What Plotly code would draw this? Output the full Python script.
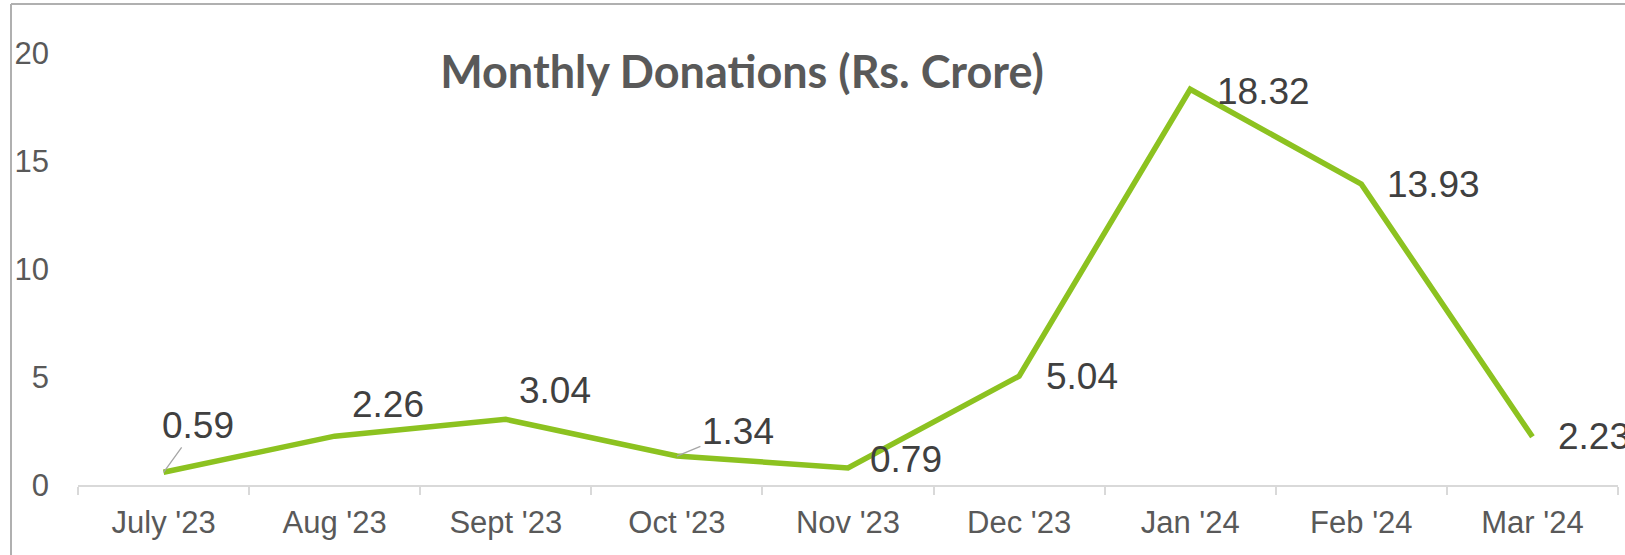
import plotly.graph_objects as go

months = ["July '23", "Aug '23", "Sept '23", "Oct '23", "Nov '23", "Dec '23", "Jan '24", "Feb '24", "Mar '24"]
donations = [0.59, 2.26, 3.04, 1.34, 0.79, 5.04, 18.32, 13.93, 2.23]
y_ticks = [0, 5, 10, 15, 20]

# label placement styles (pixel offsets relative to each point)
label_style = [
    dict(showarrow=True, ax=34, ay=-47),
    dict(showarrow=False, xshift=15, yshift=32),
    dict(showarrow=False, xshift=11, yshift=29),
    dict(showarrow=True, ax=61, ay=-25),
    dict(showarrow=False, xshift=20, yshift=8),
    dict(showarrow=False, xshift=25, yshift=0),
    dict(showarrow=False, xshift=25, yshift=-2),
    dict(showarrow=False, xshift=24, yshift=0),
    dict(showarrow=False, xshift=24, yshift=0),
]

fig = go.Figure()
fig.add_trace(go.Scatter(
    x=months, y=donations, mode="lines",
    line=dict(color="#8CC220", width=5.5),
    hoverinfo="x+y", showlegend=False,
))

annotations = []
for m, v, st in zip(months, donations, label_style):
    a = dict(x=m, y=v, xref="x", yref="y", text=f"{v:.2f}",
             font=dict(family="Liberation Sans, Arial", size=37, color="#404040"))
    if st["showarrow"]:
        a.update(showarrow=True, ax=st["ax"], ay=st["ay"], arrowhead=0,
                 arrowwidth=1.3, arrowcolor="#a6a6a6", standoff=0)
    else:
        a.update(showarrow=False, xanchor="left", yanchor="middle",
                 xshift=st["xshift"], yshift=st["yshift"])
    annotations.append(a)

bx0 = (11 - 78) / 1540
by1 = (485 - 4) / 432
fig.update_layout(
    width=1625, height=555,
    margin=dict(l=78, r=7, t=53, b=70),
    paper_bgcolor="white", plot_bgcolor="white",
    title=dict(text="<b>Monthly Donations (Rs. Crore)</b>",
               font=dict(family="Lato", size=45, color="#595959"),
               x=742/1625, xanchor="center", y=1-72/555, yanchor="middle"),
    xaxis=dict(
        type="category", range=[-0.5, 8.5],
        showline=True, linecolor="#d9d9d9", linewidth=1.5,
        ticks="outside", ticklen=8, tickcolor="#d9d9d9", tickwidth=1.5,
        tickson="boundaries", showgrid=False, zeroline=False,
        ticklabelstandoff=9,
        tickfont=dict(family="Liberation Sans, Arial", size=31, color="#595959"),
    ),
    yaxis=dict(
        range=[0, 20], tickvals=y_ticks, ticktext=[str(t) for t in y_ticks],
        showline=False, showgrid=False, zeroline=False, ticks="",
        ticklabelstandoff=28,
        tickfont=dict(family="Liberation Sans, Arial", size=31, color="#595959"),
    ),
    annotations=annotations,
    shapes=[
        dict(type="line", xref="paper", yref="paper", x0=bx0, x1=bx0, y0=-0.3, y1=by1,
             line=dict(color="#b0b0b0", width=2), layer="above"),
        dict(type="line", xref="paper", yref="paper", x0=bx0, x1=1.05, y0=by1, y1=by1,
             line=dict(color="#b0b0b0", width=2), layer="above"),
    ],
)

fig.write_html("out.html", config={"displayModeBar": False},
               post_script="document.body.style.margin='0px';document.body.style.overflow='hidden';")
